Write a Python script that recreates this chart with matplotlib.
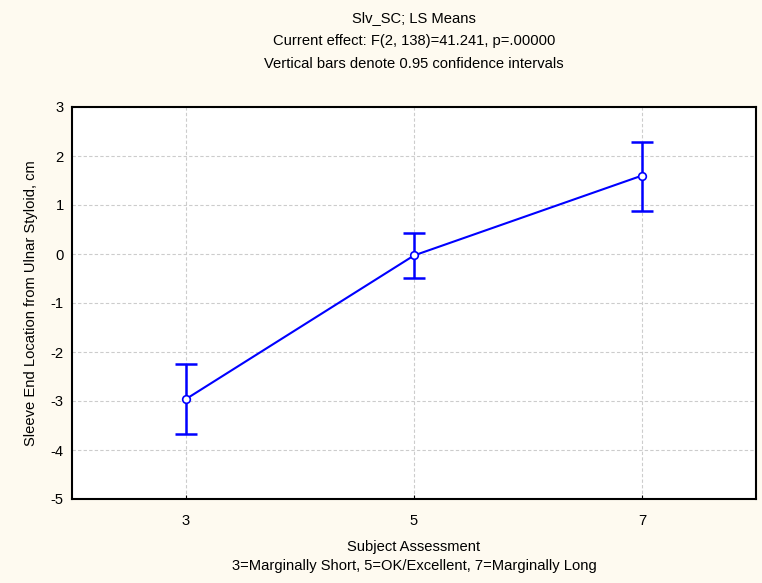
import matplotlib
matplotlib.use("Agg")
import matplotlib.pyplot as plt

# LS means of sleeve-end location by subject assessment, with 95% CIs
assessment = [3, 5, 7]
means = [-2.96, -0.03, 1.60]
ci_lower = [-3.67, -0.49, 0.88]
ci_upper = [-2.24, 0.43, 2.29]
yticks = [-5, -4, -3, -2, -1, 0, 1, 2, 3]
xticks = [3, 5, 7]

plt.rcParams["font.family"] = ["Liberation Sans", "DejaVu Sans"]
plt.rcParams["axes.unicode_minus"] = False

fs = 10.6
bg = "#FEFAF0"
fig = plt.figure(figsize=(7.62, 5.83), dpi=100, facecolor=bg)
ax = fig.add_axes([72 / 762, 1 - 499 / 583, (756 - 72) / 762, (499 - 107) / 583])
ax.set_facecolor("white")

err_lo = [m - lo for m, lo in zip(means, ci_lower)]
err_hi = [hi - m for m, hi in zip(means, ci_upper)]

ax.errorbar(assessment, means, yerr=[err_lo, err_hi], fmt="none",
            ecolor="#0000FF", elinewidth=1.8, capsize=8, capthick=1.8, zorder=3)
ax.plot(assessment, means, color="#0000FF", lw=1.5, marker="o", markersize=5.5,
        markerfacecolor="white", markeredgecolor="#0000FF", markeredgewidth=1.2, zorder=4)

ax.set_xlim(2, 8)
ax.set_ylim(-5, 3)
ax.set_xticks(xticks)
ax.set_yticks(yticks)
ax.tick_params(axis="x", direction="in", length=3, pad=11, labelsize=fs)
ax.tick_params(axis="y", length=0, pad=6, labelsize=fs)
ax.grid(True, color="#CCCCCC", linestyle=(0, (3, 2)), linewidth=0.8)
for s in ax.spines.values():
    s.set_linewidth(1.5)
    s.set_color("black")

ax.set_ylabel("Sleeve End Location from Ulnar Styloid, cm", fontsize=fs, labelpad=9)

xc = 414 / 762
fig.text(xc, 1 - 547 / 583, "Subject Assessment", ha="center", va="center", fontsize=fs)
fig.text(xc, 1 - 566 / 583, "3=Marginally Short, 5=OK/Excellent, 7=Marginally Long",
         ha="center", va="center", fontsize=fs)

fig.text(xc, 1 - 18 / 583, "Slv_SC; LS Means", ha="center", va="center", fontsize=fs)
fig.text(xc, 1 - 41 / 583, "Current effect: F(2, 138)=41.241, p=.00000",
         ha="center", va="center", fontsize=fs)
fig.text(xc, 1 - 64 / 583, "Vertical bars denote 0.95 confidence intervals",
         ha="center", va="center", fontsize=fs)

fig.savefig("out.png", dpi=100, facecolor=bg)
